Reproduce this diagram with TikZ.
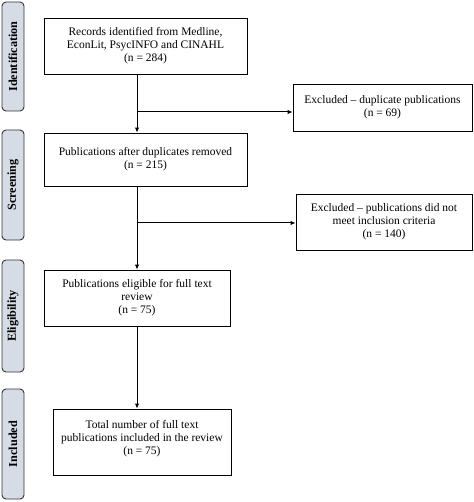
\documentclass[tikz,border=0pt]{standalone}
\usepackage{fontspec}
\setmainfont{Liberation Serif}
\usetikzlibrary{arrows.meta}
\definecolor{stagefill}{HTML}{D6DCE6}
\begin{document}
\begin{tikzpicture}[x=1pt,y=-1pt,
        box/.style={draw,line width=0.9pt,align=center,inner sep=2pt,
                font=\fontsize{11.5}{13}\selectfont},
        stage/.style={draw=black!80,fill=stagefill,line width=0.9pt,rounded corners=4pt,
                minimum width=22pt},
        stagetext/.style={rotate=90,font=\fontsize{12.2}{14}\selectfont\bfseries},
        arr/.style={line width=1pt,-{Latex[length=5pt,width=4.5pt]}}]
                \useasboundingbox (0,0) rectangle (473,502);
                % stage labels
                \node[stage,minimum height=109pt] (ident) at (13,56.5) {};
                \node[stagetext] at (ident) {Identification};
                \node[stage,minimum height=110pt] (screen) at (13,185) {};
                \node[stagetext] at (screen) {Screening};
                \node[stage,minimum height=112pt] (elig) at (13,316) {};
                \node[stagetext] at (elig) {Eligibility};
                \node[stage,minimum height=110pt] (incl) at (13,444) {};
                \node[stagetext] at (incl) {Included};
                % main boxes
                \node[box,minimum width=203pt,minimum height=56pt] (records) at (145.5,46)
                        {Records identified from Medline,\\EconLit, PsycINFO and CINAHL\\(n = 284)};
                \node[box,minimum width=203pt,minimum height=53pt] (dedup) at (145.5,159.5)
                        {Publications after duplicates removed\\(n = 215)};
                \node[box,minimum width=186pt,minimum height=56pt] (eligible) at (137,298)
                        {Publications eligible for full text\\review\\(n = 75)};
                \node[box,minimum width=178pt,minimum height=66pt,text depth=10pt] (included) at (142,442)
                        {Total number of full text\\publications included in the review\\(n = 75)};
                % excluded boxes
                \node[box,minimum width=179pt,minimum height=47pt] (dupl) at (382.5,107.5)
                        {Excluded -- duplicate publications\\(n = 69)};
                \node[box,minimum width=176pt,minimum height=56pt] (crit) at (384,222)
                        {Excluded -- publications did not\\meet inclusion criteria\\(n = 140)};
                % connectors
                \coordinate (spine) at (137,0);
                \coordinate (br1) at (137,112);
                \coordinate (br2) at (137,223);
                \draw[arr] (records.south -| spine) -- (dedup.north -| spine);
                \draw[arr] (br1) -- (br1 -| dupl.west);
                \draw[arr] (dedup.south -| spine) -- (eligible.north -| spine);
                \draw[arr] (br2) -- (br2 -| crit.west);
                \draw[arr] (eligible.south -| spine) -- (included.north -| spine);
\end{tikzpicture}
\end{document}
